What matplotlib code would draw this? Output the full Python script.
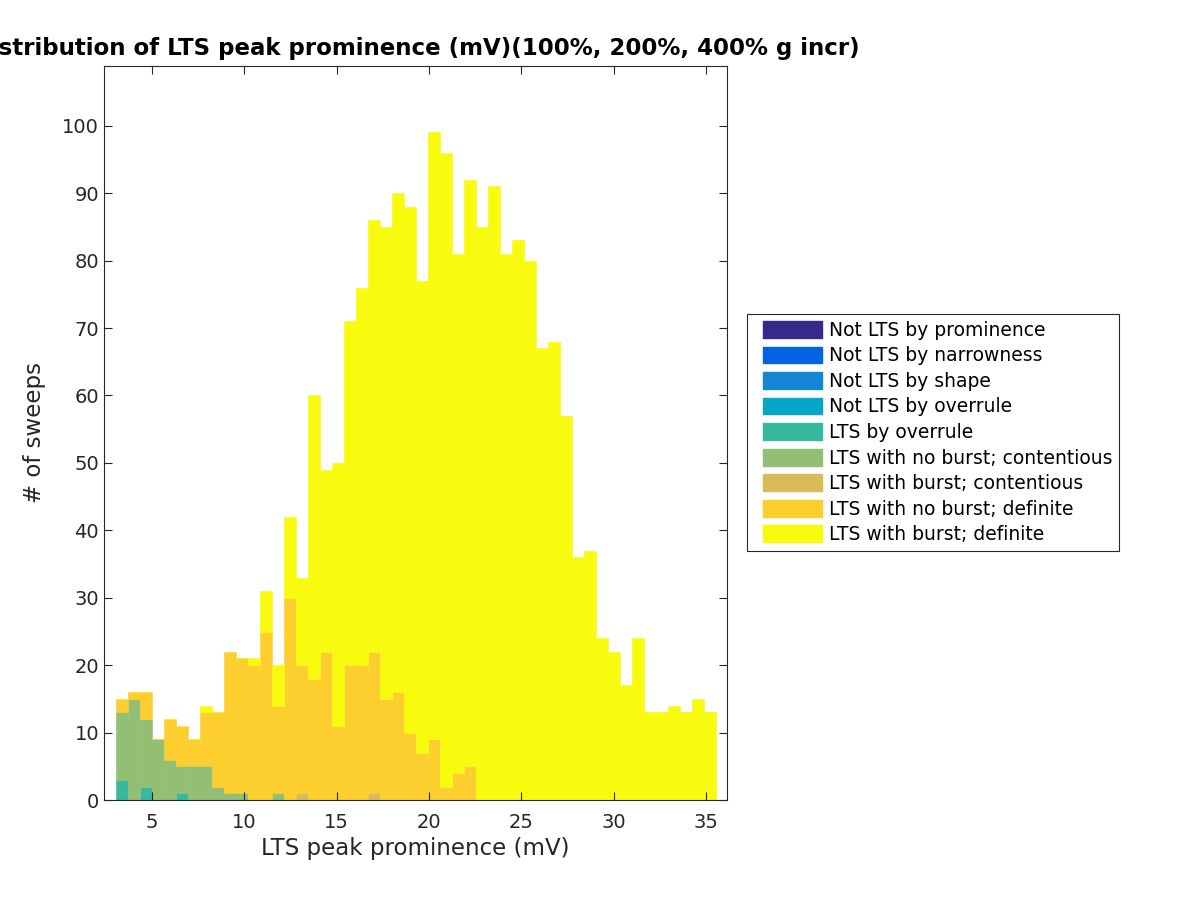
import numpy as np
import matplotlib
matplotlib.use("Agg")
from matplotlib import pyplot as plt
from matplotlib.patches import Patch, Rectangle
from matplotlib.legend_handler import HandlerPatch

plt.rcParams['font.family'] = ['DejaVu Sans']

# counts per bin (50 bins), one list per sweep class
not_lts_prominence = [0] * 50
not_lts_narrowness = [0] * 50
not_lts_shape = [0] * 50
not_lts_overrule = [0] * 50
lts_overrule = [3, 0, 2, 0, 0, 1, 0, 0, 0, 0,
                0, 0, 0, 0, 0, 0, 0, 0, 0, 0,
                0, 0, 0, 0, 0, 0, 0, 0, 0, 0,
                0, 0, 0, 0, 0, 0, 0, 0, 0, 0,
                0, 0, 0, 0, 0, 0, 0, 0, 0, 0]
lts_noburst_cont = [10, 15, 10, 9, 6, 4, 5, 5, 2, 1,
                    1, 0, 0, 1, 0, 0, 0, 0, 0, 0,
                    0, 0, 0, 0, 0, 0, 0, 0, 0, 0,
                    0, 0, 0, 0, 0, 0, 0, 0, 0, 0,
                    0, 0, 0, 0, 0, 0, 0, 0, 0, 0]
lts_burst_cont = [0, 0, 0, 0, 0, 0, 0, 0, 0, 0,
                  0, 0, 0, 0, 0, 1, 0, 0, 0, 0,
                  0, 1, 0, 0, 0, 0, 0, 0, 0, 0,
                  0, 0, 0, 0, 0, 0, 0, 0, 0, 0,
                  0, 0, 0, 0, 0, 0, 0, 0, 0, 0]
lts_noburst_def = [2, 1, 4, 0, 6, 6, 4, 8, 11, 21,
                   20, 20, 25, 13, 30, 19, 18, 22, 11, 20,
                   20, 21, 15, 16, 10, 7, 9, 2, 4, 5,
                   0, 0, 0, 0, 0, 0, 0, 0, 0, 0,
                   0, 0, 0, 0, 0, 0, 0, 0, 0, 0]
lts_burst_def = [0, 0, 0, 0, 0, 0, 0, 1, 0, 0,
                 0, 1, 6, 6, 12, 13, 42, 27, 39, 51,
                 56, 64, 70, 74, 78, 70, 90, 94, 77, 87,
                 85, 91, 81, 83, 80, 67, 68, 57, 36, 37,
                 24, 22, 17, 24, 13, 13, 14, 13, 15, 13]

labels = ["Not LTS by prominence", "Not LTS by narrowness", "Not LTS by shape",
          "Not LTS by overrule", "LTS by overrule", "LTS with no burst; contentious",
          "LTS with burst; contentious", "LTS with no burst; definite",
          "LTS with burst; definite"]
colors = ["#352a87", "#0363e1", "#1485d4", "#06a7c6", "#38b99e",
          "#92bf73", "#d9ba56", "#fcce2e", "#f9fb0e"]
series = [not_lts_prominence, not_lts_narrowness, not_lts_shape, not_lts_overrule,
          lts_overrule, lts_noburst_cont, lts_burst_cont, lts_noburst_def, lts_burst_def]

edges = np.linspace(3.06, 35.51, 51)
centers = (edges[:-1] + edges[1:]) / 2
width = edges[1] - edges[0]

fig = plt.figure(figsize=(12, 9), dpi=100)
ax = fig.add_axes([0.0867, 0.111, 0.519, 0.816])

bottom = np.zeros(50)
for vals, c in zip(series, colors):
    vals = np.array(vals, dtype=float)
    ax.bar(centers, vals, width=width, bottom=bottom, color=c, edgecolor=c,
           linewidth=0.4)
    bottom += vals

ax.set_xlim(2.415, 36.11)
ax.set_ylim(0, 108.9)
ax.set_xticks(range(5, 36, 5))
ax.set_yticks(range(0, 101, 10))

dark = "#262626"
for s in ax.spines.values():
    s.set_color(dark)
    s.set_linewidth(0.8)
ax.tick_params(direction="in", top=True, right=True, length=6, width=0.8,
               colors=dark, labelsize=14)
ax.tick_params(axis="x", pad=9)

ax.set_xlabel("LTS peak prominence (mV)", fontsize=16.5, color=dark, labelpad=4)
ax.set_ylabel("# of sweeps", fontsize=16.5, color=dark, labelpad=12)
ax.set_title("Distribution of LTS peak prominence (mV)(100%, 200%, 400% g incr)",
             fontsize=16.5, fontweight="bold", pad=8)


def shifted_patch(legend, orig_handle, xdescent, ydescent, width, height, fontsize):
    gap = 6.5
    return Rectangle((-xdescent + gap, -ydescent), width - gap, height)


handles = [Patch(facecolor=c, edgecolor=c, label=lab) for c, lab in zip(colors, labels)]
leg = ax.legend(handles=handles, loc="center left",
                bbox_to_anchor=(747 / 1200, 1 - 432.5 / 900),
                bbox_transform=fig.transFigure, fontsize=13.5, frameon=True,
                fancybox=False, edgecolor=dark, framealpha=1,
                handler_map={Patch: HandlerPatch(patch_func=shifted_patch)},
                handlelength=3.65, handleheight=1.0, handletextpad=0.38,
                labelspacing=0.35, borderpad=0.35, borderaxespad=0)
leg.get_frame().set_linewidth(0.8)

fig.savefig("out.png", dpi=100)
